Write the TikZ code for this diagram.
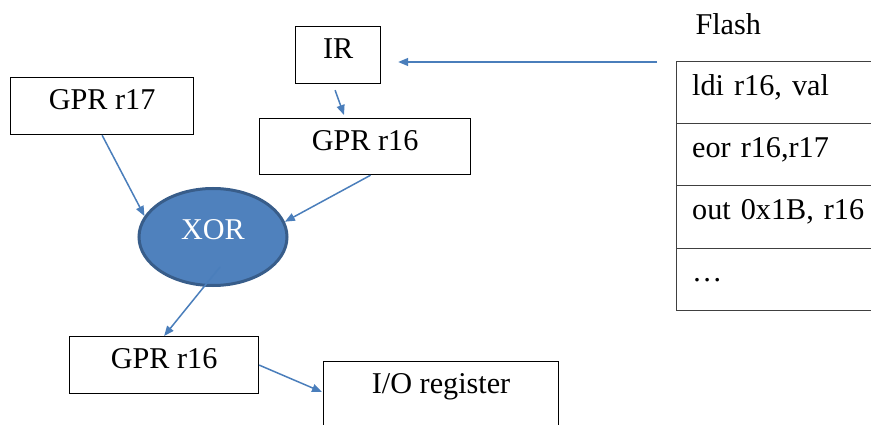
\documentclass[tikz,border=0pt]{standalone}
\usepackage{fontspec}
\setmainfont{Liberation Serif}
\usetikzlibrary{arrows.meta,calc,shapes.geometric}
\definecolor{link blue}{HTML}{4A7EBB}
\definecolor{gate fill}{HTML}{4F81BD}
\definecolor{gate edge}{HTML}{385D8A}
\tikzset{
  reg/.style={draw, line width=1.2pt, inner sep=0pt, anchor=north west, text height=32pt},
  gate/.style={ellipse, fill=gate fill, draw=gate edge, line width=3pt, text=white,
    minimum width=148pt, minimum height=97pt, text height=21pt, text depth=15pt}
  }
\tikzstyle{link} = [draw=link blue, line width=1.5pt, -{Triangle[length=10pt,width=8pt]}]
\tikzstyle{slot} = [anchor=north west, inner ysep=0pt, inner xsep=16pt, text height=33pt,
  text depth=29pt, text width=180pt, align=left]
\tikzstyle{rule} = [draw=black!75, line width=1pt]

\begin{document}
\begin{tikzpicture}[x=1pt, y=-1pt, font=\fontsize{30.2}{36}\selectfont]

    % The page
    \useasboundingbox (0,0) rectangle (871,425);

    % The registers
    \node[reg, minimum width=183pt, text depth=25pt] (r17) at (10,77) {GPR r17};
    \node[reg, minimum width=85pt, text depth=25pt] (ir) at (295,26) {IR};
    \node[reg, minimum width=211pt, text depth=24pt] (gpr16a) at (259,118) {GPR r16};
    \node[reg, minimum width=189pt, text depth=25pt] (gpr16b) at (69,336) {GPR r16};
    \node[reg, minimum width=235pt, text depth=58pt] (io) at (323,361) {I/O register};

    % The gate
    \node[gate] (xor) at (213,237) {XOR};

    % The program in flash, open on the right
    \node[anchor=base west] (flash) at (692,35) {Flash};
    \foreach \i/\instr in {1/{ldi r16, val}, 2/{eor r16,r17}, 3/{out 0x1B, r16}, 4/{…}}
      \node[slot] (row\i) at (676,{62*\i}) {\instr};
    \foreach \i in {1,...,4}
      \path[rule] (row\i.north west) -- (row\i.north east);
    \path[rule] (row1.north west) -- (row4.south west) -- (row4.south east);

    % The data path
    \path[link, shorten <=19pt, shorten >=17pt] (row1.north west) -- (ir.east |- row1.north west);
    \path[link] ($(ir.south)+(-3,6)$) -- ($(gpr16a.north west)+(85,-3)$);
    \path[link] ($(gpr16a.south)+(5.5,0)$) -- (xor.12);
    \path[link] (r17.south) -- (xor.163);
    \path[link] ($(xor.center)+(7,30)$) -- (gpr16b.north);
    \path[link] (gpr16b.east) -- ($(io.north west)+(-1,31)$);
\end{tikzpicture}
\end{document}
